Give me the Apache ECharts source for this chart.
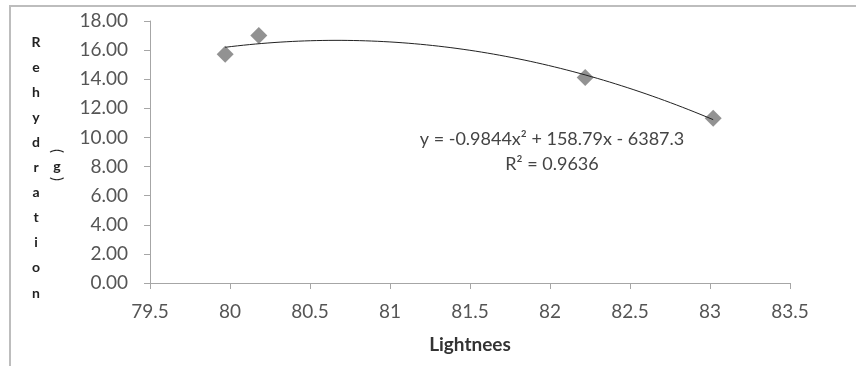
<!DOCTYPE html>
<html>
<head>
<meta charset="utf-8">
<script src="https://cdn.jsdelivr.net/npm/echarts@6/dist/echarts.min.js"></script>
<style>
  html, body { margin: 0; padding: 0; background: #fff; }
  #chart { width: 856px; height: 366px; }
</style>
</head>
<body>
<div id="chart"></div>
<script>
// Measured samples: lightness vs. rehydration mass (g)
const lightness = [79.97, 80.18, 82.22, 83.02];
const rehydration = [15.72, 17.0, 14.11, 11.32];

// Axis ranges and tick steps
const xRange = [79.5, 83.5];
const xStep = 0.5;
const yRange = [0, 18];
const yStep = 2;

// Text shown on the chart
const equationText = 'y = -0.9844x\u00b2 + 158.79x - 6387.3';
const rSquaredText = 'R\u00b2 = 0.9636';
const yTitleLetters = ['R', 'e', 'h', 'y', 'd', 'r', 'a', 't', 'i', 'o', 'n'];
const yUnitGlyphs = ['(', 'g', ')'];
const xTitle = 'Lightnees';

// Least-squares quadratic fit of the samples (polynomial trend line)
function quadFit(xs, ys) {
  const x0 = xs.reduce((a, b) => a + b, 0) / xs.length; // centre for stability
  let S = [0, 0, 0, 0, 0], T = [0, 0, 0];
  xs.forEach((xv, i) => {
    const u = xv - x0;
    let p = 1;
    for (let k = 0; k < 5; k++) { S[k] += p; if (k < 3) T[k] += p * ys[i]; p *= u; }
  });
  const M = [[S[0], S[1], S[2], T[0]], [S[1], S[2], S[3], T[1]], [S[2], S[3], S[4], T[2]]];
  for (let c = 0; c < 3; c++) {
    for (let r = c + 1; r < 3; r++) {
      const f = M[r][c] / M[c][c];
      for (let k = c; k < 4; k++) M[r][k] -= f * M[c][k];
    }
  }
  const coef = [0, 0, 0];
  for (let r = 2; r >= 0; r--) {
    let s = M[r][3];
    for (let k = r + 1; k < 3; k++) s -= M[r][k] * coef[k];
    coef[r] = s / M[r][r];
  }
  return (xv) => { const u = xv - x0; return coef[0] + coef[1] * u + coef[2] * u * u; };
}

const trend = quadFit(lightness, rehydration);
const xMin = Math.min(...lightness), xMax = Math.max(...lightness);
const trendPoints = [];
const steps = 80;
for (let i = 0; i <= steps; i++) {
  const xv = xMin + (xMax - xMin) * i / steps;
  trendPoints.push([xv, trend(xv)]);
}

const FONT = 'Lato, "Open Sans", sans-serif';
const axisGray = '#a6a6a6';

// Vertical stacked y-axis title
const letterGraphics = yTitleLetters.map((ch, i) => ({
  type: 'text',
  x: 36, y: 42 + i * 25.1,
  style: {
    text: ch, fill: '#222', font: 'bold 14px ' + FONT,
    align: 'center', verticalAlign: 'middle'
  }
}));
// Unit "(g)" set vertically: the brackets are turned a quarter clockwise
const unitY = [151, 166, 179];
const unitGraphics = yUnitGlyphs.map((ch, i) => ({
  type: 'text',
  x: 57, y: unitY[i],
  rotation: i === 1 ? 0 : -Math.PI / 2,
  style: {
    text: ch, fill: '#222',
    font: (i === 1 ? 'bold 14px ' : '15px ') + FONT,
    align: 'center', verticalAlign: 'middle'
  }
}));

const chart = echarts.init(document.getElementById('chart'), null, { renderer: 'canvas' });
chart.setOption({
  animation: false,
  backgroundColor: '#fff',
  grid: { left: 150, right: 66, top: 21, bottom: 83, containLabel: false },
  xAxis: {
    type: 'value',
    min: xRange[0], max: xRange[1], interval: xStep,
    name: xTitle, nameLocation: 'middle', nameGap: 52,
    nameTextStyle: { fontFamily: FONT, fontWeight: 'bold', fontSize: 19, color: '#333' },
    axisLine: { show: true, onZero: false, lineStyle: { color: axisGray, width: 1 } },
    axisTick: { show: true, length: 6, lineStyle: { color: axisGray } },
    axisLabel: { fontFamily: FONT, fontSize: 19, color: '#555', margin: 19 },
    splitLine: { show: false }
  },
  yAxis: {
    type: 'value',
    min: yRange[0], max: yRange[1], interval: yStep,
    axisLine: { show: true, lineStyle: { color: axisGray, width: 1 } },
    axisTick: { show: true, length: 6, lineStyle: { color: axisGray } },
    axisLabel: {
      fontFamily: FONT, fontSize: 19, color: '#555', margin: 22,
      formatter: (v) => v.toFixed(2)
    },
    splitLine: { show: false }
  },
  series: [
    {
      type: 'scatter',
      data: lightness.map((xv, i) => [xv, rehydration[i]]),
      symbol: 'diamond',
      symbolSize: [17, 17],
      itemStyle: { color: '#777777' },
      z: 2
    },
    {
      type: 'line',
      data: trendPoints,
      showSymbol: false,
      smooth: false,
      lineStyle: { color: '#222', width: 1 },
      z: 3
    }
  ],
  graphic: [
    {
      type: 'rect',
      shape: { x: 10, y: 6, width: 900, height: 420 },
      style: { fill: 'none', stroke: '#bdbdbd', lineWidth: 2 },
      silent: true
    },
    ...letterGraphics,
    ...unitGraphics,
    {
      type: 'text', x: 552, y: 139,
      style: { text: equationText, fill: '#444', font: '18px ' + FONT, align: 'center', verticalAlign: 'middle' }
    },
    {
      type: 'text', x: 552, y: 164,
      style: { text: rSquaredText, fill: '#444', font: '18px ' + FONT, align: 'center', verticalAlign: 'middle' }
    }
  ]
});
</script>
</body>
</html>
